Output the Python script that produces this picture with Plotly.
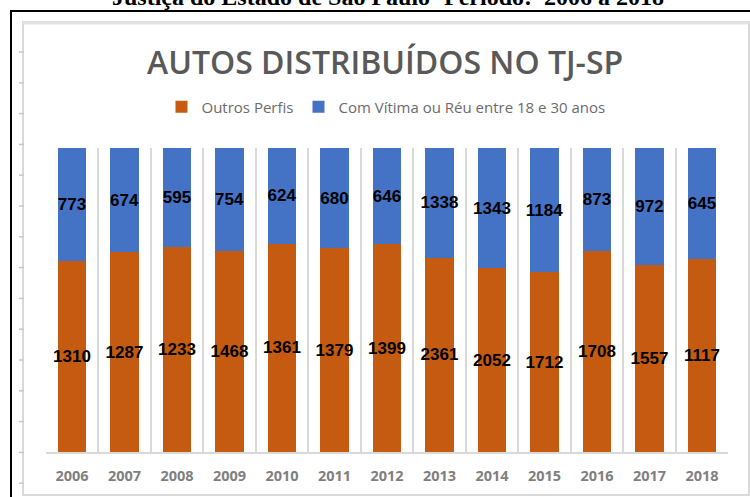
import plotly.graph_objects as go

W, H = 750, 497

years = ["2006", "2007", "2008", "2009", "2010", "2011", "2012",
         "2013", "2014", "2015", "2016", "2017", "2018"]
outros_perfis = [1310, 1287, 1233, 1468, 1361, 1379, 1399,
                 2361, 2052, 1712, 1708, 1557, 1117]
vitima_reu_18_30 = [773, 674, 595, 754, 624, 680, 646,
                    1338, 1343, 1184, 873, 972, 645]

ORANGE = "#C55A11"
BLUE = "#4472C4"


def px(x):
    return x / W


def py(y):
    return 1 - y / H


label_font = dict(family="Liberation Sans", size=17, color="black", weight="bold")

fig = go.Figure()
fig.add_trace(go.Bar(
    x=years, y=outros_perfis, name="Outros Perfis",
    marker=dict(color=ORANGE, line=dict(width=0)),
    text=outros_perfis, texttemplate="%{text}",
    textposition="inside", insidetextanchor="middle", textangle=0,
    textfont=label_font,
))
fig.add_trace(go.Bar(
    x=years, y=vitima_reu_18_30, name="Com Vítima ou Réu entre 18 e 30 anos",
    marker=dict(color=BLUE, line=dict(width=0)),
    text=vitima_reu_18_30, texttemplate="%{text}",
    textposition="inside", insidetextanchor="middle", textangle=0,
    textfont=label_font,
))

shapes = []
# outer black frame
shapes.append(dict(type="rect", xref="paper", yref="paper",
                   x0=px(11), x1=px(770), y0=py(520), y1=py(11),
                   line=dict(color="black", width=2), layer="above"))
# inner chart-area border
shapes.append(dict(type="rect", xref="paper", yref="paper",
                   x0=px(23), x1=px(749), y0=py(495), y1=py(22),
                   line=dict(color="#d9d9d9", width=2), layer="below"))
shapes.append(dict(type="line", xref="paper", yref="paper",
                   x0=px(23), x1=px(749), y0=py(23), y1=py(23),
                   line=dict(color="#e3e3e3", width=3), layer="below"))
# small ticks on left border
for k in range(15):
    yy = 52 + 30.8 * k
    shapes.append(dict(type="line", xref="paper", yref="paper",
                       x0=px(19), x1=px(24), y0=py(yy), y1=py(yy),
                       line=dict(color="#c8c8c8", width=1.5), layer="below"))

annotations = [
    dict(text="<b>Justiça do Estado de São Paulo- Período:  2006 a 2018</b>",
         xref="paper", yref="paper", x=px(388), y=py(-3),
         xanchor="center", yanchor="middle", showarrow=False,
         font=dict(family="Liberation Serif", size=24, color="black")),
    dict(text="AUTOS DISTRIBUÍDOS NO TJ-SP",
         xref="paper", yref="paper", x=px(385), y=py(61),
         xanchor="center", yanchor="middle", showarrow=False,
         font=dict(family="Open Sans", size=32, color="#595959", weight=600)),
]

fig.update_layout(
    width=W, height=H,
    margin=dict(l=0, r=0, t=0, b=0),
    paper_bgcolor="white", plot_bgcolor="white",
    barmode="stack", barnorm="percent", bargap=0.45,
    uniformtext=dict(minsize=17, mode="show"),
    showlegend=True,
    legend=dict(orientation="h", x=px(386), xanchor="center",
                y=py(107), yanchor="middle",
                font=dict(family="Open Sans", size=15, color="#6b6b6b"),
                itemwidth=30, traceorder="normal"),
    shapes=shapes, annotations=annotations,
    xaxis=dict(type="category", domain=[px(45.75), px(728.25)],
               showgrid=True, gridcolor="#d9d9d9", gridwidth=2,
               tickson="boundaries", ticks="", showline=True,
               linecolor="#d9d9d9", linewidth=2, automargin=False,
               ticklabelstandoff=10,
               tickfont=dict(family="Open Sans", size=14.5, color="#7f7f7f",
                             weight="bold")),
    yaxis=dict(domain=[py(452), py(148)], range=[0, 100], visible=False,
               automargin=False),
)

fig.write_html("out.html",
               config={"displayModeBar": False},
               post_script="document.body.style.margin='0';"
                           "document.body.style.padding='0';")
